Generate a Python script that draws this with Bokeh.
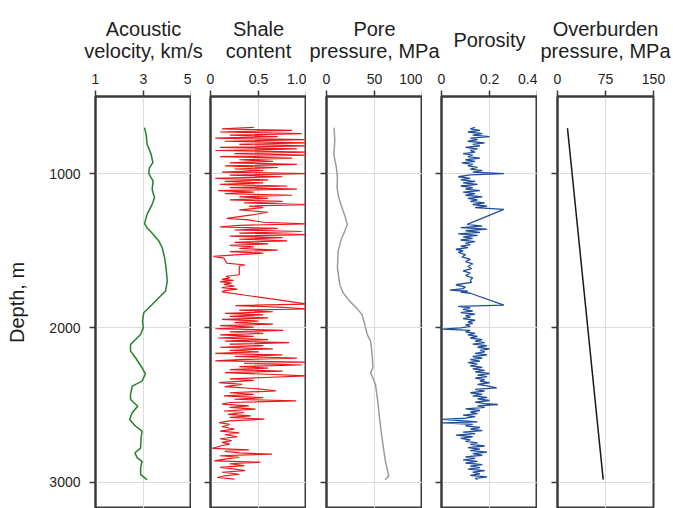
from bokeh.plotting import figure
from bokeh.layouts import row, column
from bokeh.models import Range1d, FixedTicker
from bokeh.core.properties import value
from bokeh.embed import file_html
from bokeh.resources import INLINE

FONT = "Liberation Sans"

# ---------------- data ----------------
vel_depth = [702, 745, 810, 875, 929, 961, 1000, 1048, 1102, 1156, 1199, 1264, 1324, 1350,
             1393, 1437, 1480, 1545, 1610, 1696, 1761, 1793, 1848, 1902, 1956, 1999, 2042,
             2107, 2150, 2193, 2258, 2297, 2345, 2377, 2431, 2464, 2507, 2550, 2593, 2637,
             2669, 2712, 2777, 2810, 2842, 2864, 2907, 2950, 2983]
vel_value = [3.04, 3.11, 3.15, 3.32, 3.39, 3.25, 3.22, 3.40, 3.36, 3.46, 3.36, 3.15, 3.04, 3.15,
             3.40, 3.64, 3.78, 3.88, 3.94, 3.99, 3.92, 3.71, 3.36, 3.01, 2.96, 2.99, 2.88,
             2.46, 2.46, 2.67, 2.94, 3.08, 2.94, 2.53, 2.46, 2.46, 2.76, 2.53, 2.42, 2.67,
             2.94, 2.90, 2.88, 2.64, 2.74, 2.94, 2.88, 2.88, 3.15]

shale_depth = [700, 710, 720, 730, 740, 750, 760, 770, 780, 790, 800, 810, 820, 830, 840, 850,
               860, 870, 880, 890, 900, 910, 920, 930, 940, 950, 960, 970, 980, 990, 1000,
               1010, 1020, 1030, 1040, 1050, 1060, 1070, 1080, 1090, 1100, 1110, 1120, 1130,
               1140, 1150, 1160, 1170, 1180, 1190, 1200, 1210, 1220, 1235, 1250, 1265, 1290,
               1300, 1315, 1325, 1335, 1345, 1355, 1365, 1375, 1385, 1395, 1405, 1415, 1425,
               1435, 1445, 1455, 1465, 1475, 1485, 1495, 1505, 1515, 1525, 1536,
               1548, 1580, 1592, 1600, 1655, 1665, 1675, 1685, 1692, 1700, 1710, 1718, 1728,
               1738, 1748, 1758, 1766, 1845, 1855, 1865, 1876,
               1885, 1895, 1905, 1915, 1925, 1935, 1945, 1955, 1965, 1975, 1985, 1995, 2005,
               2015, 2025, 2035, 2045, 2055, 2065, 2075, 2085, 2095, 2105, 2115, 2125, 2135,
               2145, 2155, 2165, 2175, 2185, 2195, 2205, 2213, 2221,
               2230, 2240, 2250, 2260, 2270, 2280, 2290, 2300, 2310, 2321, 2330, 2340, 2354,
               2365, 2380, 2395, 2408, 2420, 2430, 2440, 2452, 2462, 2472, 2483, 2494, 2505,
               2515, 2526, 2538, 2548, 2560, 2570, 2580, 2591, 2602, 2613, 2625, 2640, 2655,
               2668, 2680, 2692, 2705, 2718, 2730, 2742, 2753, 2765, 2781, 2790, 2800, 2810,
               2818, 2828, 2838, 2850, 2861, 2870, 2880, 2892, 2904, 2915, 2925, 2935, 2948,
               2958, 2969, 2980]
shale_value = [0.45, 0.12, 0.85, 0.10, 0.95, 0.20, 0.70, 0.05, 1.00, 0.15, 1.00, 0.30, 1.00, 0.10, 0.90, 0.05,
               1.00, 0.25, 1.00, 0.10, 0.85, 0.30, 0.65, 0.20, 0.90, 0.15, 0.70, 0.25, 0.55, 0.12, 1.00,
               0.20, 0.75, 0.05, 0.60, 0.15, 0.55, 0.10, 0.80, 0.20, 0.90, 0.08, 0.45, 0.15,
               0.85, 0.30, 0.60, 0.20, 0.75, 0.35, 1.00, 0.40, 0.55, 0.30, 0.60, 0.45, 0.17,
               0.40, 0.55, 1.00, 0.30, 0.10, 0.70, 0.25, 0.95, 0.30, 1.00, 0.20, 0.75, 0.30,
               0.80, 0.25, 0.60, 0.20, 0.45, 0.30, 0.70, 0.20, 0.55, 0.30, 0.03,
               0.14, 0.17, 0.36, 0.30, 0.30, 0.16, 0.20, 0.12, 0.24, 0.10, 0.22, 0.14, 0.25,
               0.12, 0.28, 0.15, 0.12, 1.00, 0.26, 0.70, 1.00,
               0.30, 0.65, 0.15, 0.55, 0.20, 0.60, 0.12, 0.50, 0.25, 0.65, 0.10, 0.45, 0.05,
               0.76, 0.20, 0.55, 0.10, 0.45, 0.08, 0.60, 0.15, 0.82, 0.20, 0.55, 0.10, 0.65,
               0.20, 0.50, 0.05, 0.75, 0.25, 0.90, 0.30, 0.05, 1.00,
               0.35, 0.95, 0.30, 0.60, 0.20, 0.75, 0.15, 0.60, 1.00, 0.57, 0.20, 0.45, 0.09,
               0.33, 0.15, 0.50, 0.68, 0.20, 0.45, 0.14, 0.55, 0.25, 0.89, 0.20, 0.12, 0.40,
               0.20, 0.47, 0.14, 0.35, 0.18, 0.42, 0.20, 0.56, 0.20, 0.09, 0.20, 0.12, 0.25,
               0.10, 0.30, 0.15, 0.28, 0.10, 0.22, 0.12, 0.20, 0.10, 0.02, 0.40, 0.15, 0.30,
               0.64, 0.10, 0.30, 0.15, 0.04, 0.52, 0.20, 0.35, 0.10, 0.25, 0.36, 0.12, 0.30,
               0.15, 0.07, 0.25]

pore_depth = [702, 788, 875, 961, 1026, 1091, 1156, 1221, 1285, 1329, 1372, 1437, 1502, 1610,
              1718, 1772, 1826, 1869, 1912, 1956, 1999, 2042, 2085, 2172, 2258, 2291, 2323,
              2366, 2474, 2583, 2669, 2777, 2864, 2929, 2961, 2983]
pore_value = [7.9, 8.6, 7.6, 10.3, 11.4, 11.0, 12.8, 16.2, 19.7, 21.7, 19.0, 14.8, 12.1, 11.4,
              13.8, 17.2, 24.1, 31.0, 36.9, 39.0, 40.7, 42.4, 45.9, 47.6, 48.3, 45.9, 48.3,
              51.0, 53.4, 55.2, 56.9, 59.3, 61.4, 63.8, 64.8, 61.0]

poro_depth = [700, 710, 720, 730, 740, 750, 760, 770, 780, 790, 800, 810, 820, 830, 840, 850,
              860, 870, 880, 890, 900, 910, 920, 930, 940, 950, 960, 970, 980, 990, 1000,
              1008, 1020, 1030, 1040, 1050, 1060, 1070, 1080, 1090, 1100, 1110, 1120, 1130,
              1140, 1150, 1160, 1170, 1180, 1190, 1200, 1210, 1220, 1231, 1329, 1340, 1350,
              1360, 1370, 1380, 1390, 1400, 1410, 1420, 1430, 1440, 1450, 1460, 1470, 1480,
              1490, 1500, 1510, 1525, 1540, 1555, 1570, 1585, 1600, 1615, 1630, 1645, 1660,
              1675, 1690, 1705, 1720, 1735, 1745, 1755, 1762, 1768, 1775, 1852, 1860, 1870,
              1880, 1890, 1900, 1910, 1920, 1930, 1940, 1950, 1960, 1970, 1980, 1990, 2000,
              2008, 2015, 2025, 2035, 2045, 2055, 2065, 2075, 2085, 2095, 2105, 2115, 2125,
              2135, 2145, 2155, 2165, 2175, 2185, 2195, 2205, 2215, 2225, 2235, 2245, 2255,
              2265, 2275, 2285, 2295, 2305, 2315, 2325, 2335, 2345, 2355, 2365, 2375, 2388,
              2398, 2410, 2420, 2430, 2440, 2450, 2460, 2470, 2480, 2490, 2496, 2505, 2515,
              2525, 2535, 2545, 2555, 2565, 2575, 2585, 2593, 2600, 2608, 2615, 2625, 2635,
              2645, 2655, 2665, 2675, 2685, 2695, 2705, 2715, 2725, 2735, 2745, 2755, 2765,
              2775, 2785, 2795, 2805, 2815, 2825, 2835, 2845, 2855, 2865, 2875, 2885, 2895,
              2905, 2915, 2925, 2935, 2945, 2955, 2965, 2975, 2982]
poro_value = [0.14, 0.12, 0.16, 0.11, 0.17, 0.13, 0.20, 0.12, 0.15, 0.11, 0.18, 0.13, 0.16, 0.10, 0.15, 0.12,
              0.14, 0.09, 0.13, 0.11, 0.16, 0.10, 0.14, 0.085, 0.13, 0.11, 0.15, 0.12, 0.17, 0.13, 0.26,
              0.12, 0.07, 0.12, 0.08, 0.14, 0.09, 0.15, 0.08, 0.13, 0.10, 0.16, 0.09, 0.14,
              0.10, 0.17, 0.11, 0.15, 0.12, 0.18, 0.13, 0.19, 0.14, 0.26, 0.107, 0.17, 0.08,
              0.19, 0.10, 0.16, 0.07, 0.15, 0.09, 0.13, 0.08, 0.14, 0.10, 0.12, 0.08, 0.11,
              0.06, 0.09, 0.07, 0.10, 0.085, 0.12, 0.10, 0.13, 0.11, 0.125, 0.09, 0.12, 0.10,
              0.13, 0.12, 0.125, 0.06, 0.10, 0.09, 0.035, 0.11, 0.08, 0.12, 0.26, 0.07, 0.12,
              0.09, 0.13, 0.08, 0.14, 0.10, 0.12, 0.09, 0.14, 0.11, 0.13, 0.10, 0.12, 0.08,
              0.003, 0.12, 0.10, 0.14, 0.11, 0.15, 0.12, 0.17, 0.14, 0.18, 0.13, 0.19, 0.15,
              0.20, 0.16, 0.18, 0.14, 0.19, 0.13, 0.17, 0.12, 0.16, 0.11, 0.15, 0.12, 0.17,
              0.13, 0.18, 0.14, 0.20, 0.15, 0.19, 0.14, 0.18, 0.16, 0.20, 0.15, 0.19, 0.23,
              0.14, 0.18, 0.12, 0.17, 0.13, 0.19, 0.15, 0.20, 0.14, 0.18, 0.235, 0.15, 0.18,
              0.10, 0.16, 0.12, 0.15, 0.09, 0.14, 0.10, 0.003, 0.08, 0.15, 0.003, 0.13, 0.10,
              0.16, 0.12, 0.17, 0.09, 0.14, 0.06, 0.13, 0.08, 0.12, 0.10, 0.15, 0.12, 0.18,
              0.11, 0.16, 0.12, 0.19, 0.13, 0.17, 0.10, 0.14, 0.09, 0.15, 0.10, 0.17, 0.12,
              0.16, 0.11, 0.18, 0.13, 0.16, 0.12, 0.19, 0.14, 0.15]

over_depth = [705, 2983]
over_value = [15.6, 71.4]

titles = ["Acoustic\nvelocity, km/s", "Shale\ncontent", "Pore\npressure, MPa",
          "Porosity", "Overburden\npressure, MPa"]
x_ranges = [(1, 5), (0, 1.0), (0, 100), (0, 0.4), (0, 150)]
x_ticks = [[1, 3, 5], [0, 0.5, 1.0], [0, 50, 100], [0, 0.2, 0.4], [0, 75, 150]]
x_tick_labels = [["1", "3", "5"], ["0", "0.5", "1.0"], ["0", "50", "100"],
                 ["0", "0.2", "0.4"], ["0", "75", "150"]]
depth_ticks = [1000, 2000, 3000]
depth_range = (3170, 500)

series = [(vel_depth, vel_value, "#23812b", 1.5),
          (shale_depth, shale_value, "#e8191b", 1.2),
          (pore_depth, pore_value, "#9b9b9b", 1.5),
          (poro_depth, poro_value, "#1f4e9e", 1.3),
          (over_depth, over_value, "#1a1a1a", 1.5)]

# ---------------- layout ----------------
lefts = [95, 19, 20, 19, 20]
FRAME_W = 96
TITLE_H = 62
TOTAL_W = 673
TOTAL_H = 508
AX = "#3a3a3a"
TXT = "#1e1e1e"

panels = []
centers = []
cum = 0
for i in range(5):
    last = i == 4
    right = TOTAL_W - (cum + lefts[i] + FRAME_W) if last else 0
    w = lefts[i] + FRAME_W + right
    centers.append(cum + lefts[i] + FRAME_W / 2)
    cum += w
    p = figure(width=w, height=TOTAL_H - TITLE_H,
               x_range=Range1d(*x_ranges[i]), y_range=Range1d(*depth_range),
               x_axis_location="above", output_backend="svg", toolbar_location=None,
               min_border_left=lefts[i], min_border_right=right, min_border_top=96 - TITLE_H,
               min_border_bottom=0)
    p.outline_line_color = AX
    p.outline_line_width = 2
    p.background_fill_color = "white"
    p.border_fill_color = "white"

    xa = p.xaxis[0]
    xa.ticker = FixedTicker(ticks=x_ticks[i])
    xa.major_label_overrides = {t: l for t, l in zip(x_ticks[i], x_tick_labels[i])}
    xa.major_tick_out = 6
    xa.major_tick_in = 0
    xa.minor_tick_line_color = None
    xa.axis_line_color = AX
    xa.axis_line_width = 2
    xa.major_tick_line_color = AX
    xa.major_tick_line_width = 1.5
    xa.major_label_text_font = FONT
    xa.major_label_text_font_size = "14px"
    xa.major_label_text_color = TXT
    xa.major_label_standoff = 7

    ya = p.yaxis[0]
    ya.ticker = FixedTicker(ticks=depth_ticks)
    ya.major_tick_out = 6
    ya.major_tick_in = 0
    ya.minor_tick_line_color = None
    ya.axis_line_color = AX
    ya.axis_line_width = 2
    ya.major_tick_line_color = AX
    ya.major_tick_line_width = 1.5
    if i == 0:
        ya.major_label_text_font = FONT
        ya.major_label_text_font_size = "14px"
        ya.major_label_text_color = TXT
        ya.major_label_standoff = 9
        ya.axis_label = "Depth, m"
        ya.axis_label_text_font = FONT
        ya.axis_label_text_font_size = "20px"
        ya.axis_label_text_font_style = "normal"
        ya.axis_label_text_color = TXT
        ya.axis_label_standoff = 18
    else:
        ya.major_label_overrides = {t: "" for t in depth_ticks}
        ya.major_label_standoff = 0

    p.xgrid.ticker = FixedTicker(ticks=[x_ticks[i][1]])
    p.ygrid.ticker = FixedTicker(ticks=depth_ticks)
    p.xgrid.grid_line_color = "#dcdcdc"
    p.ygrid.grid_line_color = "#dcdcdc"

    d, v, c, lw = series[i]
    p.line(x=v, y=d, line_color=c, line_width=lw)
    panels.append(p)

# title strip above the panels (titles may be wider than one panel)
tf = figure(width=TOTAL_W, height=TITLE_H, x_range=Range1d(0, TOTAL_W),
            y_range=Range1d(TITLE_H, 0), x_axis_type=None, y_axis_type=None,
            output_backend="svg", toolbar_location=None,
            min_border_left=0, min_border_right=0, min_border_top=0, min_border_bottom=0)
tf.grid.visible = False
tf.outline_line_color = None
tf.background_fill_color = "white"
tf.border_fill_color = "white"

tx, ty, tt = [], [], []
for c, t in zip(centers, titles):
    parts = t.split("\n")
    if len(parts) == 2:
        tx += [c, c]
        ty += [28, 50]
        tt += parts
    else:
        tx.append(c)
        ty.append(39)
        tt.append(parts[0])
tf.text(x=tx, y=ty, text=tt, text_align="center", text_baseline="alphabetic",
        text_font=value(FONT), text_font_size="20px", text_color=TXT)

layout = column(tf, row(*panels, spacing=0), spacing=0)
open("out.html", "w").write(file_html(layout, INLINE))
